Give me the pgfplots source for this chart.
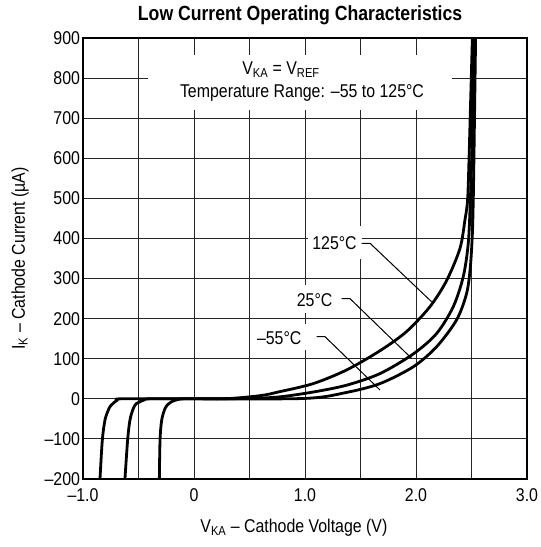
\documentclass[border=0pt]{standalone}
\usepackage{fontspec}
\setmainfont{Liberation Sans}[FakeStretch=0.86]
\usepackage{pgfplots}
\pgfplotsset{compat=1.18}
\newcommand{\lf}{\fontsize{18.5}{22}\selectfont}
\begin{document}
\begin{tikzpicture}
\begin{axis}[name=ax, scale only axis, width=444pt, height=441pt,
  xmin=-1, xmax=3, ymin=-200, ymax=900,
  xtick={-1,0,1,2,3}, xticklabels={–1.0,0,1.0,2.0,3.0},
  minor xtick={-0.5,0.5,1.5,2.5},
  ytick={-200,-100,0,100,200,300,400,500,600,700,800,900},
  yticklabels={–200,–100,0,100,200,300,400,500,600,700,800,900},
  grid=both,
  major grid style={black!85, line width=0.9pt},
  minor grid style={black!85, line width=0.9pt},
  major tick length=0pt, minor tick length=0pt,
  axis line style={line width=1.6pt},
  ticklabel style={font=\lf},
  xticklabel style={yshift=-6pt},
  yticklabel style={xshift=0.5pt},
  xlabel={V\textsubscript{KA} – Cathode Voltage (V)},
  ylabel={I\textsubscript{K} – Cathode Current (µA)},
  label style={font=\lf},
  xlabel style={at={(axis description cs:0.475,-0.111)}, anchor=center},
  ylabel style={at={(axis description cs:-0.1419,0.5)}, anchor=center},
  title={Low Current Operating Characteristics},
  title style={at={(axis description cs:0.489,1.038)}, anchor=center, font=\fontsize{20.5}{24}\selectfont\bfseries},
]
% white box at top
\fill[white] (axis cs:-0.41,858) rectangle (axis cs:2.32,720);
\node[font=\lf, anchor=center, inner sep=0pt] at (axis cs:0.784,820) {V\textsubscript{KA} = V\textsubscript{REF}};
\node[font=\lf, anchor=center, inner sep=0pt] at (axis cs:0.973,764) {Temperature Range: –55 to 125°C};
% labels
\node[font=\lf, fill=white, text height=13.3pt, text depth=0pt, minimum width=54pt, minimum height=33pt, inner sep=0pt] at (axis cs:1.266,389) {125°C};
\node[font=\lf, fill=white, text height=13.3pt, text depth=0pt, minimum width=46pt, minimum height=28pt, inner sep=0pt] at (axis cs:1.087,248) {25°C};
\node[font=\lf, fill=white, text height=13.3pt, text depth=0pt, minimum width=56pt, minimum height=26pt, inner sep=0pt] at (axis cs:0.768,153) {–55°C};
\draw[black, line width=1pt] (axis cs:1.511,388) -- (axis cs:1.586,388) -- (axis cs:2.141,242);
\draw[black, line width=1pt] (axis cs:1.330,250) -- (axis cs:1.405,250) -- (axis cs:1.960,101);
\draw[black, line width=1pt] (axis cs:1.105,155) -- (axis cs:1.180,155) -- (axis cs:1.676,22);
% 125 C
\addplot[black, line width=2.8pt, smooth, line join=round] coordinates {
(-0.312,-200) (-0.306,-103) (-0.291,-53) (-0.261,-24) (-0.231,-13) (-0.201,-7) (-0.15,-2) (-0.096,0)
(0,0) (0.3,0.5) (0.6,8) (0.775,18) (1.075,38) (1.375,72) (1.676,120) (1.916,168) (2.126,230)
(2.276,295) (2.396,375) (2.441,446) (2.465,496) (2.478,600) (2.488,700) (2.498,800) (2.508,900)};
% 25 C
\addplot[black, line width=2.8pt, smooth, line join=round] coordinates {
(-0.622,-200) (-0.598,-103) (-0.577,-53) (-0.547,-24) (-0.52,-12) (-0.486,-7) (-0.44,-2) (-0.396,0)
(0,0) (0.5,1) (0.775,5) (1.075,17) (1.375,34) (1.676,63) (1.976,112) (2.186,163) (2.336,230)
(2.426,305) (2.471,388) (2.49,496) (2.502,600) (2.51,700) (2.517,800) (2.523,900)};
% -55 C
\addplot[black, line width=2.8pt, smooth, line join=round] coordinates {
(-0.847,-200) (-0.826,-103) (-0.802,-53) (-0.772,-28) (-0.75,-17) (-0.727,-11) (-0.69,-3) (-0.652,0)
(0,0) (1.0,1) (1.375,16) (1.676,38) (1.976,80) (2.186,130) (2.366,197) (2.456,263) (2.49,330)
(2.508,413) (2.516,496) (2.522,600) (2.527,700) (2.532,800) (2.537,900)};
\end{axis}
\pgfresetboundingbox
\path ([shift={(-83pt,-68pt)}]ax.south west) rectangle ([shift={(14pt,38pt)}]ax.north east);
\end{tikzpicture}
\end{document}
